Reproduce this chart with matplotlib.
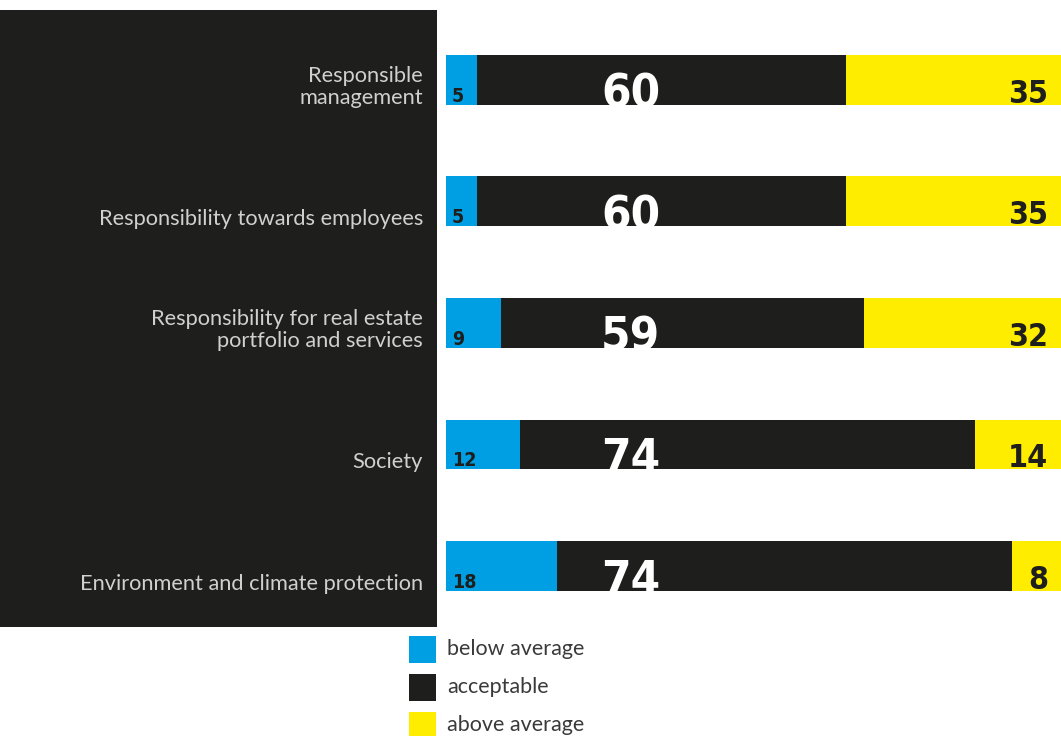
import matplotlib
matplotlib.use("Agg")
import matplotlib.pyplot as plt
from matplotlib.patches import Rectangle
import matplotlib.transforms as mtransforms

categories = ["Responsible\nmanagement",
              "Responsibility towards employees",
              "Responsibility for real estate\nportfolio and services",
              "Society",
              "Environment and climate protection"]
below = [5, 5, 9, 12, 18]
acceptable = [60, 60, 59, 74, 74]
above = [35, 35, 32, 14, 8]
legend_labels = ["below average", "acceptable", "above average"]

BLUE = "#009fe3"
DARK = "#1e1e1c"
YELLOW = "#ffed00"
LABEL_GREY = "#d0d0d0"

W, H = 1061, 736
fig = plt.figure(figsize=(W / 100, H / 100), dpi=100)
fig.patch.set_facecolor("white")

# dark panel on the left
fig.patches.append(Rectangle((0, (H - 627) / H), 437 / W, 617 / H,
                             transform=fig.transFigure, facecolor=DARK,
                             edgecolor="none", zorder=-5))

ax = fig.add_axes([446 / W, (H - 627) / H, 615 / W, 617 / H])
ax.set_xlim(0, 100)
ax.set_ylim(4.502, -0.576)
ax.axis("off")
ax.patch.set_alpha(0)
ax.set_zorder(2)

num_kw = dict(family="DejaVu Sans", fontstretch="condensed", fontweight="bold")
lab_font = ["Lato", "DejaVu Sans"]
bh = 0.4115
ys = list(range(len(categories)))

bars_b = ax.barh(ys, below, height=bh, color=BLUE, linewidth=0)
bars_a = ax.barh(ys, acceptable, left=below, height=bh, color=DARK, linewidth=0)
lefts_y = [b + a for b, a in zip(below, acceptable)]
bars_y = ax.barh(ys, above, left=lefts_y, height=bh, color=YELLOW, linewidth=0)

blend = mtransforms.blended_transform_factory(fig.transFigure, ax.transData)
for i, y in enumerate(ys):
    bottom = y + bh / 2
    # category label
    ax.annotate(categories[i], (423 / W, bottom), xycoords=blend,
                xytext=(0, -3), textcoords="offset pixels", ha="right",
                va="bottom", color=LABEL_GREY, fontsize=15.7, family=lab_font,
                linespacing=1.12, zorder=5)
    # blue value
    ax.annotate(str(below[i]), (0, bottom), xytext=(6, 3), textcoords="offset pixels",
                ha="left", va="baseline", color=DARK, fontsize=14, **num_kw)
    # big acceptable value
    t = ax.annotate(str(acceptable[i]), (30, bottom), xytext=(0, -3),
                    textcoords="offset pixels", ha="center", va="baseline",
                    color="white", fontsize=34, **num_kw)
    t.set_clip_path(bars_a[i])
    # yellow value
    ax.annotate(str(above[i]), (100, bottom), xytext=(-13, 2), textcoords="offset pixels",
                ha="right", va="baseline", color=DARK, fontsize=23, **num_kw)

# legend
colors = [BLUE, DARK, YELLOW]
for k, (lab, c) in enumerate(zip(legend_labels, colors)):
    top = 636 + 38 * k
    fig.patches.append(Rectangle((409 / W, (H - top - 27) / H), 27 / W, 27 / H,
                                 transform=fig.transFigure, facecolor=c,
                                 edgecolor="none"))
    fig.text(447 / W, (H - top - 13) / H, lab, ha="left", va="center",
             color="#3a3a3a", fontsize=15.5, family=lab_font)

fig.savefig("out.png", dpi=100)
